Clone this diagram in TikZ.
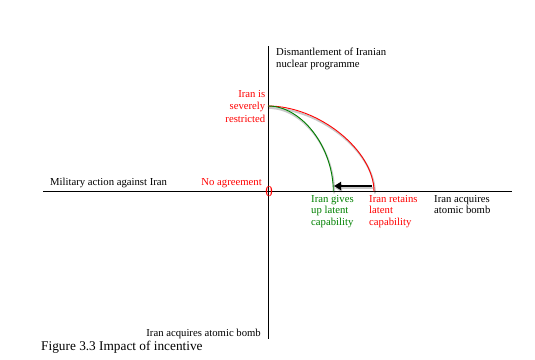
\documentclass[tikz,border=0pt]{standalone}
\usepackage{fontspec}
\setmainfont{Liberation Serif}
\usetikzlibrary{calc,arrows.meta}
\definecolor{dgreen}{RGB}{0,128,0}
\definecolor{shadowgray}{RGB}{200,200,200}
\tikzset{
  axis/.style={draw=black,line width=0.9pt},
  redcurve/.style={draw=red,line width=0.9pt},
  greencurve/.style={draw=dgreen,line width=0.9pt},
  shadowline/.style={draw=shadowgray,line width=1.8pt,transform canvas={xshift=1pt,yshift=-2pt}},
  lbl/.style={inner sep=0pt,font=\fontsize{10.7}{11.8}\selectfont,align=left},
  movearrow/.style={line width=2pt,-{Triangle[length=7pt,width=8pt]}},
}
\begin{document}
\begin{tikzpicture}[x=1pt,y=-1pt]
\useasboundingbox (0,0) rectangle (535,359);
% key points
\coordinate (O) at (268,191.5);
\coordinate (ytop) at (268,46);
\coordinate (ybot) at (268,339);
\coordinate (xleft) at (43,191.5);
\coordinate (xright) at (512,191.5);
\coordinate (top) at (268,106);
\coordinate (redend) at (374,191.5);
\coordinate (greenend) at (333.3,191.5);
\coordinate (arrS) at (372,186);
\coordinate (arrE) at (334,186);
% shadows
\draw[shadowline] (top) .. controls ($(top)+(51,0)$) and ($(redend)+(0,-41)$) .. (redend);
\draw[shadowline] (top) .. controls ($(top)+(34,0)$) and ($(greenend)+(0,-44)$) .. (greenend);
\draw[shadowline,line width=2.4pt,-{Triangle[length=7pt,width=8pt]}] (arrS) -- (arrE);
% axes
\draw[axis] (ytop) -- (ybot);
\draw[axis] (xleft) -- (xright);
% curves
\draw[redcurve] (top) .. controls ($(top)+(51,0)$) and ($(redend)+(0,-41)$) .. (redend);
\draw[greencurve] (top) .. controls ($(top)+(34,0)$) and ($(greenend)+(0,-44)$) .. (greenend);
% arrow
\draw[movearrow] (arrS) -- (arrE);
% labels (base anchor = baseline of last line)
\node[lbl,anchor=base west,font=\fontsize{10.7}{11.2}\selectfont] (dism) at (276,67) {Dismantlement of Iranian\\nuclear programme};
\node[lbl,anchor=base east,align=right,text=red,font=\fontsize{10.7}{12.5}\selectfont] (restr) at (265.5,122) {Iran is\\severely\\restricted};
\node[lbl,anchor=base west] (mil) at (50,185) {Military action against Iran};
\node[lbl,anchor=base east,text=red] (noag) at (262,185.5) {No agreement};
\node[inner sep=0pt,text=red,font=\fontsize{15}{15}\selectfont] (zero) at (269,191.7) {0};
\node[lbl,anchor=base west,text=dgreen] (gives) at (311,225.6) {Iran gives\\up latent\\capability};
\node[lbl,anchor=base west,text=red] (retains) at (369,225.6) {Iran retains\\latent\\capability};
\node[lbl,anchor=base west] (bombr) at (434,213.8) {Iran acquires\\atomic bomb};
\node[lbl,anchor=base east] (bombb) at (261,336) {Iran acquires atomic bomb};
\node[inner sep=0pt,anchor=base west,font=\fontsize{13.3}{15}\selectfont] (cap) at (41,350) {Figure 3.3 Impact of incentive};
\end{tikzpicture}
\end{document}
